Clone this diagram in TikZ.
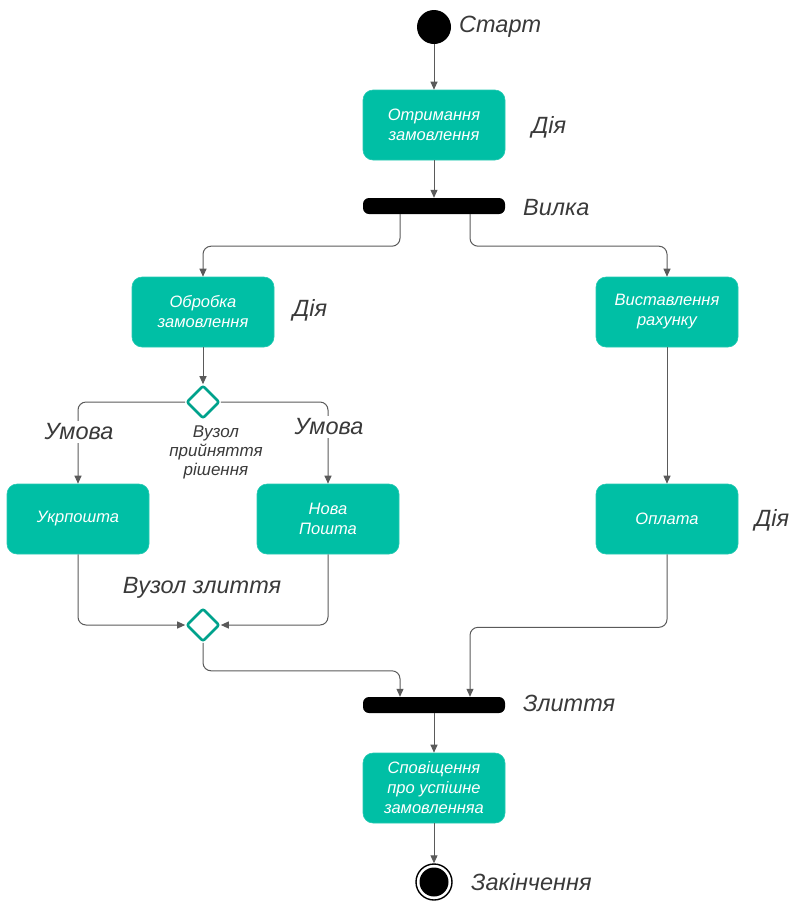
\documentclass[tikz,border=0pt]{standalone}
\usepackage{fontspec}
\setmainfont{Liberation Sans}
\usetikzlibrary{arrows.meta,shapes.geometric}
\definecolor{teal1}{HTML}{00BFA5}
\definecolor{linec}{HTML}{5A5A5A}
\definecolor{labc}{HTML}{3A3A3A}
\tikzset{
  actbox/.style={rectangle, rounded corners=10pt, fill=teal1, draw=teal1!85!white, line width=0.6pt,
    minimum width=142pt, minimum height=70pt, text=white, align=center,
    font=\fontsize{16.5}{20}\selectfont\itshape},
  bar/.style={rectangle, rounded corners=6pt, fill=black, minimum width=142pt, minimum height=16pt, inner sep=0pt},
  decnode/.style={diamond, draw=teal1!85!black, line width=2.6pt, fill=white, minimum width=33pt, minimum height=33pt, inner sep=0pt, rounded corners=2pt},
  lbl/.style={text=labc, font=\fontsize{23.5}{26}\selectfont\itshape, inner sep=1pt},
  smalllbl/.style={text=labc, font=\fontsize{17}{19}\selectfont\itshape, align=center},
  conn/.style={draw=linec, line width=1pt, rounded corners=8pt, -{Triangle[length=8pt,width=7pt]}},
}
\begin{document}
\begin{tikzpicture}[x=1pt,y=-1pt]
\useasboundingbox (0,0) rectangle (796,903);
% nodes
\node[circle, fill=black, minimum size=34pt, inner sep=0pt] (start) at (434,27) {};
\node[lbl, anchor=west] (tstart) at (458,27) {Старт};
\node[actbox] (recv) at (434,125) {Отримання\\замовлення};
\node[lbl] (tdia1) at (549,127) {Дія};
\node[bar] (fork) at (434,206) {};
\node[lbl, anchor=west] (tfork) at (522,208) {Вилка};
\node[actbox] (proc) at (203,312) {Обробка\\замовлення};
\node[lbl] (tdia2) at (310,310) {Дія};
\node[actbox] (bill) at (667,312) {Виставлення\\рахунку};
\node[decnode] (dec) at (203,402) {};
\node[smalllbl] (tdec) at (216,452) {Вузол\\прийняття\\рішення};
\node[actbox] (ukr) at (78,519) {Укрпошта};
\node[actbox] (nova) at (328,519) {Нова\\Пошта};
\node[actbox] (pay) at (667,519) {Оплата};
\node[lbl] (tdia3) at (772,520) {Дія};
\node[lbl] (tmrg) at (202,588) {Вузол злиття};
\node[decnode] (mrg) at (203,625) {};
\node[bar] (join) at (434,705) {};
\node[lbl, anchor=west] (tjoin) at (522,703) {Злиття};
\node[actbox] (notify) at (434,788) {Сповіщення\\про успішне\\замовленняа};
\node[circle, draw=black, line width=1.4pt, fill=white, minimum size=36pt, inner sep=0pt] (fin) at (434,882) {};
\node[circle, fill=black, minimum size=29pt, inner sep=0pt] (finin) at (fin.center) {};
\node[lbl, anchor=west] (tfin) at (470,882) {Закінчення};
% connectors
\draw[conn] (start) -- (recv);
\draw[conn] (recv) -- (fork);
\draw[conn] ([xshift=-34pt]fork.south) -- ++(0,32) -| (proc.north);
\draw[conn] ([xshift=36pt]fork.south) -- ++(0,32) -| (bill.north);
\draw[conn] (proc) -- (dec);
\draw[conn] (dec.west) -| (ukr.north);
\draw[conn] (dec.east) -| (nova.north);
\node[lbl, fill=white, inner sep=3pt] (um1) at (79,432) {Умова};
\node[lbl, fill=white, inner sep=3pt] (um2) at (329,427) {Умова};
\draw[conn] (bill) -- (pay);
\draw[conn] (ukr.south) |- (mrg.west);
\draw[conn] (nova.south) |- (mrg.east);
\draw[conn] (mrg.south) -- ++(0,28) -| ([xshift=-34pt]join.north);
\draw[conn] (pay.south) -- ++(0,73) -| ([xshift=36pt]join.north);
\draw[conn] (join) -- (notify);
\draw[conn] (notify) -- (fin);
\end{tikzpicture}
\end{document}
